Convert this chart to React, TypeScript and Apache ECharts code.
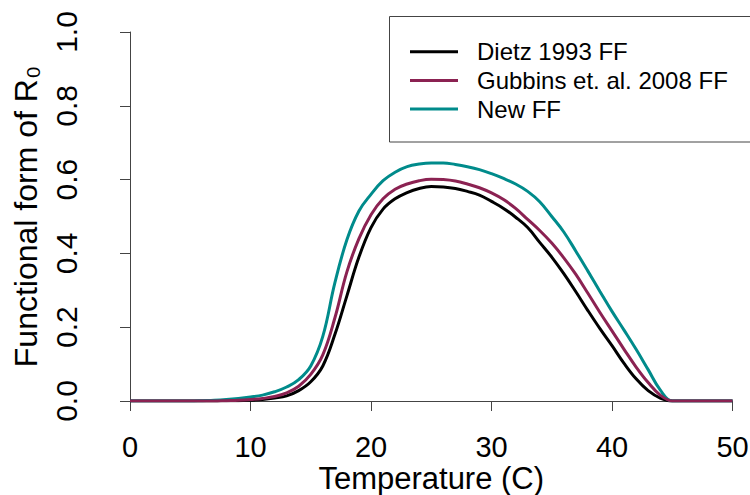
import React, { useEffect, useRef } from "react";
import * as echarts from "echarts";

const temps = [
  0, 1, 2, 3, 4, 5, 6, 7, 8, 9, 10, 11, 12, 13, 14, 15, 16, 17, 18, 19, 20,
  21, 22, 23, 24, 25, 26, 27, 28, 29, 30, 31, 32, 33, 34, 35, 36, 37, 38, 39,
  40, 41, 42, 43, 44, 45, 46, 47, 48, 49, 50,
];

const dietzFF = [
  0, 0, 0, 0, 0, 0, 0, 0, 0.001, 0.001, 0.002, 0.004, 0.008, 0.014, 0.028,
  0.052, 0.095, 0.18, 0.285, 0.39, 0.47, 0.52, 0.548, 0.565, 0.576, 0.581,
  0.58, 0.576, 0.568, 0.558, 0.541, 0.522, 0.498, 0.47, 0.43, 0.39, 0.345,
  0.296, 0.245, 0.196, 0.15, 0.102, 0.06, 0.028, 0.008, 0, 0, 0, 0, 0, 0,
];

const gubbinsFF = [
  0, 0, 0, 0, 0, 0, 0, 0, 0.001, 0.002, 0.004, 0.007, 0.012, 0.022, 0.04,
  0.072, 0.125, 0.225, 0.35, 0.44, 0.505, 0.548, 0.574, 0.588, 0.597, 0.601,
  0.6, 0.596, 0.588, 0.578, 0.564, 0.546, 0.522, 0.492, 0.462, 0.428, 0.388,
  0.343, 0.292, 0.24, 0.19, 0.14, 0.092, 0.05, 0.016, 0, 0, 0, 0, 0, 0,
];

const newFF = [
  0, 0, 0, 0, 0, 0, 0.001, 0.002, 0.004, 0.007, 0.011, 0.016, 0.025, 0.038,
  0.058, 0.095, 0.175, 0.32, 0.437, 0.515, 0.56, 0.597, 0.62, 0.635, 0.642,
  0.645, 0.645, 0.641, 0.635, 0.627, 0.616, 0.603, 0.588, 0.568, 0.54, 0.5,
  0.458, 0.406, 0.352, 0.297, 0.243, 0.192, 0.14, 0.085, 0.03, 0, 0, 0, 0, 0,
  0,
];

const seriesNames = ["Dietz 1993 FF", "Gubbins et. al. 2008 FF", "New FF"];
const seriesColors = ["#000000", "#8B2252", "#008B8B"];

const FONT = "'Liberation Sans', Arial, Helvetica, sans-serif";

export default function App() {
  const ref = useRef<HTMLDivElement>(null);

  useEffect(() => {
    document.body.style.margin = "0";
    if (!ref.current) return;
    const chart = echarts.init(ref.current, null, { renderer: "svg" });

    const pairs = (vals: number[]) => temps.map((t, i) => [t, vals[i]]);
    const mk = (idx: number, vals: number[]) => ({
      name: seriesNames[idx],
      type: "line",
      data: pairs(vals),
      showSymbol: false,
      smooth: 0.4,
      color: seriesColors[idx],
      lineStyle: { width: 3, color: seriesColors[idx] },
    });

    chart.setOption({
      animation: false,
      backgroundColor: "#ffffff",
      grid: {
        left: 130,
        right: 17.5,
        top: 32,
        bottom: 94,
        containLabel: false,
        outerBoundsMode: "none",
      },
      xAxis: {
        type: "value",
        min: 0,
        max: 50,
        interval: 10,
        offset: 22,
        name: "Temperature (C)",
        nameLocation: "middle",
        nameGap: 40,
        nameMoveOverlap: false,
        nameTextStyle: {
          fontSize: 31,
          lineHeight: 30,
          color: "#000",
          fontFamily: FONT,
        },
        axisLine: { show: true, lineStyle: { color: "#444", width: 1 } },
        axisTick: { show: true, length: 10, lineStyle: { color: "#444" } },
        axisLabel: {
          fontSize: 29,
          lineHeight: 24,
          color: "#000",
          fontFamily: FONT,
          margin: 12,
        },
        splitLine: { show: false },
      },
      yAxis: {
        type: "value",
        min: 0,
        max: 1,
        interval: 0.2,
        offset: 24,
        name: "Functional form of R\u2080",
        nameLocation: "middle",
        nameGap: 64,
        nameRotate: 90,
        nameMoveOverlap: false,
        nameTextStyle: { fontSize: 32, color: "#000", fontFamily: FONT },
        axisLine: { show: true, lineStyle: { color: "#444", width: 1 } },
        axisTick: { show: true, length: 10, lineStyle: { color: "#444" } },
        axisLabel: {
          fontSize: 30,
          color: "#000",
          fontFamily: FONT,
          rotate: 90,
          margin: 25,
          formatter: (v: number) => v.toFixed(1),
        },
        splitLine: { show: false },
      },
      legend: {
        data: seriesNames,
        orient: "vertical",
        left: 410,
        top: 39.7,
        padding: 0,
        itemGap: 4.7,
        icon: "rect",
        itemWidth: 48,
        itemHeight: 3,
        textStyle: {
          fontSize: 24,
          lineHeight: 24,
          color: "#000",
          fontFamily: FONT,
          padding: [0, 0, 0, 14],
        },
      },
      graphic: [
        {
          type: "rect",
          shape: { x: 389.5, y: 16.5, width: 400, height: 125.5 },
          style: { fill: "none", stroke: "#444", lineWidth: 1 },
          silent: true,
          z: 10,
        },
      ],
      series: [mk(0, dietzFF), mk(2, newFF), mk(1, gubbinsFF)],
    });

    return () => chart.dispose();
  }, []);

  return (
    <div
      ref={ref}
      style={{ position: "fixed", left: 0, top: 0, width: 750, height: 495 }}
    />
  );
}
